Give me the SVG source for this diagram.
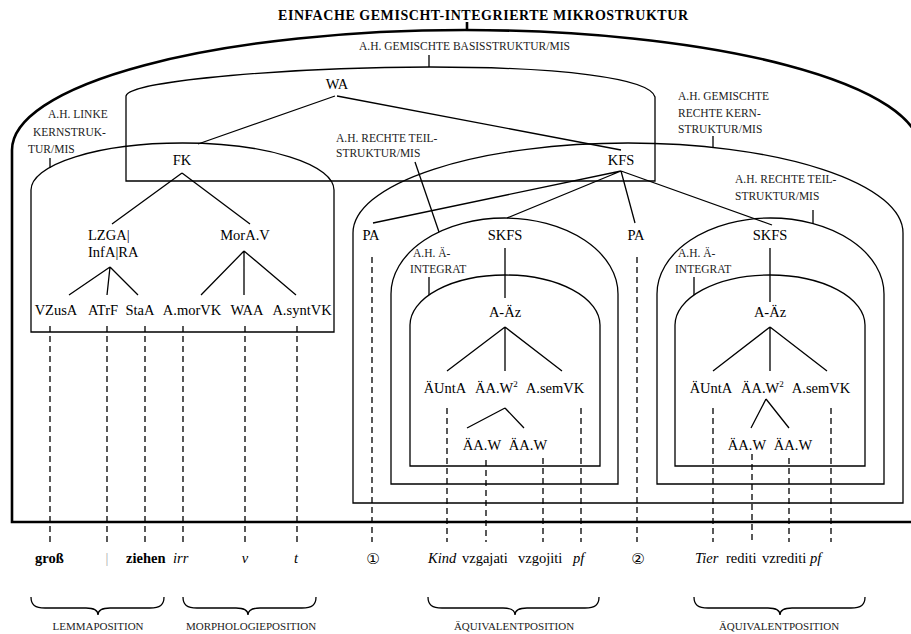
<svg xmlns="http://www.w3.org/2000/svg" width="911" height="634" viewBox="0 0 911 634" font-family="'Liberation Serif', 'Times New Roman', serif">
<style>
.l{stroke:#000;stroke-width:1.3;fill:none}
.th{stroke:#000;stroke-width:2.6;fill:none}
.d{stroke:#000;stroke-width:1.3;fill:none;stroke-dasharray:6 4}
.n{font-size:14.5px;text-anchor:middle}
.st{text-anchor:start}
.s{font-size:11.5px;fill:#222}
.w{font-size:14.5px}
.bd{font-weight:bold}
.it{font-style:italic}
.p{font-size:11px;text-anchor:middle;fill:#222}
.c{font-family:'DejaVu Sans',sans-serif;font-size:15px;text-anchor:middle}
</style>
<rect width="911" height="634" fill="#fff"/>
<text x="483" y="20" font-size="14" font-weight="bold" text-anchor="middle" textLength="410" lengthAdjust="spacing">EINFACHE GEMISCHT-INTEGRIERTE MIKROSTRUKTUR</text>

<g id="outer">
<path class="th" d="M12,522 V150 A453,120 0 0 1 465,30 A455,120 0 0 1 920,150 V522 Z"/>
<line class="th" x1="467" y1="22" x2="467" y2="30"/>
</g>

<g id="basis">
<path class="l" d="M126,181 V96 C130,80 300,67 430,67 C560,67 650,78 655,97 V181 Z"/>
<line class="l" x1="429" y1="55" x2="429" y2="67"/>
<text class="s" x="359" y="50">A.H. GEMISCHTE BASISSTRUKTUR/MIS</text>
</g>

<g id="linke-kern">
<path class="l" d="M31,332 V190 A151.5,47 0 0 1 334,190 V332 Z"/>
<line class="l" x1="50" y1="158" x2="50" y2="168"/>
<text class="s" x="48" y="118">A.H. LINKE</text>
<text class="s" x="33" y="136">KERNSTRUK-</text>
<text class="s" x="28" y="153">TUR/MIS</text>
</g>

<g id="rechte-kern">
<path class="l" d="M353,503 V233 A275,90 0 0 1 903,233 V503 Z"/>
<line class="l" x1="713" y1="136" x2="713" y2="148"/>
<text class="s" x="678" y="100">A.H. GEMISCHTE</text>
<text class="s" x="678" y="117">RECHTE KERN-</text>
<text class="s" x="678" y="133">STRUKTUR/MIS</text>
</g>

<g id="teil1">
<path class="l" d="M391,484 V294 A113.5,76 0 0 1 618,294 V484 Z"/>
<line class="l" x1="415" y1="162" x2="439" y2="232"/>
<text class="s" x="336" y="142">A.H. RECHTE TEIL-</text>
<text class="s" x="336" y="157">STRUKTUR/MIS</text>
</g>
<g id="integrat1">
<path class="l" d="M410,466 V325 A95,50 0 0 1 600,325 V466 Z"/>
<line class="l" x1="429" y1="277" x2="429" y2="295"/>
<text class="s" x="413" y="257">A.H. Ä-</text>
<text class="s" x="410" y="273">INTEGRAT</text>
</g>
<g id="teil2">
<path class="l" d="M657,484 V294 A113.5,76 0 0 1 884,294 V484 Z"/>
<line class="l" x1="813" y1="210" x2="813" y2="224"/>
<text class="s" x="735" y="183">A.H. RECHTE TEIL-</text>
<text class="s" x="735" y="200">STRUKTUR/MIS</text>
</g>
<g id="integrat2">
<path class="l" d="M675,466 V325 A95,50 0 0 1 865,325 V466 Z"/>
<line class="l" x1="694" y1="277" x2="694" y2="295"/>
<text class="s" x="678" y="257">A.H. Ä-</text>
<text class="s" x="675" y="273">INTEGRAT</text>
</g>

<g id="connectors">
<path class="l" d="M335,96 L198,144 M337,96 L621,150
M182,173 L112,224 M182,173 L250,224
M110,267 L69,295 M110,267 L107,295 M110,267 L138,295
M244,251 L201,295 M244,251 L244,295 M244,251 L296,295
M621,171 L373,223 M621,171 L507,218 M621,171 L635,223 M621,171 L772,225
M505,248 L505,298 M770,248 L770,302
M505,327 L447,371 M505,327 L505,371 M505,327 L562,371
M770,327 L713,371 M770,327 L770,371 M770,327 L827,371
M505,408 L467,428 M505,408 L524,428
M766,399 L751,428 M766,399 L789,428"/>
<path class="d" d="M50,326 V542 M107,326 V542 M145,326 V542 M183,326 V542 M245,326 V542 M297,326 V542
M372,257 V542 M637,257 V542
M447,408 V542 M486,460 V542 M543,458 V542 M581,408 V542
M713,408 V542 M752,454 V542 M789,458 V542 M831,408 V542"/>
</g>

<g id="WA"><text class="n" x="337" y="89">WA</text></g>
<g id="FK"><text class="n" x="182" y="165">FK</text></g>
<g id="KFS"><text class="n" x="621" y="165">KFS</text></g>
<g id="LZGA"><text class="n st" x="88" y="240">LZGA|</text><text class="n st" x="88" y="257">InfA|RA</text></g>
<g id="MorAV"><text class="n" x="245" y="240">MorA.V</text></g>
<g id="VZusA"><text class="n" x="56" y="315">VZusA</text></g>
<g id="ATrF"><text class="n" x="103" y="315">ATrF</text></g>
<g id="StaA"><text class="n" x="140" y="315">StaA</text></g>
<g id="AmorVK"><text class="n" x="192" y="315">A.morVK</text></g>
<g id="WAA"><text class="n" x="247" y="315">WAA</text></g>
<g id="AsyntVK"><text class="n" x="302" y="315">A.syntVK</text></g>
<g id="PA1"><text class="n" x="371" y="240">PA</text></g>
<g id="PA2"><text class="n" x="636" y="240">PA</text></g>
<g id="SKFS1"><text class="n" x="505" y="240">SKFS</text></g>
<g id="SKFS2"><text class="n" x="770" y="240">SKFS</text></g>
<g id="AAz1"><text class="n" x="505" y="317">A-Äz</text></g>
<g id="AAz2"><text class="n" x="770" y="317">A-Äz</text></g>
<g id="UntA1"><text class="n" x="445" y="393">ÄUntA</text></g>
<g id="AAW2a"><text class="n st" x="475" y="393">ÄA.W<tspan font-size="9" dy="-6">2</tspan></text></g>
<g id="semVK1"><text class="n" x="555" y="393">A.semVK</text></g>
<g id="UntA2"><text class="n" x="711" y="393">ÄUntA</text></g>
<g id="AAW2b"><text class="n st" x="741" y="393">ÄA.W<tspan font-size="9" dy="-6">2</tspan></text></g>
<g id="semVK2"><text class="n" x="821" y="393">A.semVK</text></g>
<g id="AAW1a"><text class="n" x="482" y="450">ÄA.W</text></g>
<g id="AAW1b"><text class="n" x="528" y="450">ÄA.W</text></g>
<g id="AAW1c"><text class="n" x="747" y="450">ÄA.W</text></g>
<g id="AAW1d"><text class="n" x="793" y="450">ÄA.W</text></g>

<g id="bottom-words">
<text class="w bd" x="35" y="563">groß</text>
<text class="w" x="107" y="563" text-anchor="middle" style="fill:#aaa">|</text>
<text class="w bd" x="126" y="563">ziehen</text>
<text class="w it" x="173" y="563">irr</text>
<text class="w it" x="245" y="563" text-anchor="middle">v</text>
<text class="w it" x="296" y="563" text-anchor="middle">t</text>
<text class="c" x="373" y="564">①</text>
<text class="w it" x="428" y="563">Kind</text>
<text class="w" x="462" y="563">vzgajati</text>
<text class="w" x="518" y="563">vzgojiti</text>
<text class="w it" x="573" y="563">pf</text>
<text class="c" x="638" y="564">②</text>
<text class="w it" x="695" y="563">Tier</text>
<text class="w" x="726" y="563">rediti</text>
<text class="w" x="762" y="563">vzrediti</text>
<text class="w it" x="810" y="563">pf</text>
</g>

<g id="braces">
<path class="l" d="M31,597 C31,605 35,608 45,608 L86,608 C94,608 98,610 98,615 C98,610 102,608 110,608 L150,608 C160,608 164,605 164,597"/>
<path class="l" d="M183,597 C183,605 187,608 197,608 L236,608 C244,608 248,610 248,615 C248,610 252,608 260,608 L302,608 C312,608 316,605 316,597"/>
<path class="l" d="M428,597 C428,605 432,608 442,608 L503,608 C511,608 515,610 515,615 C515,610 519,608 527,608 L585,608 C595,608 599,605 599,597"/>
<path class="l" d="M694,597 C694,605 698,608 708,608 L768,608 C776,608 780,610 780,615 C780,610 784,608 792,608 L851,608 C861,608 865,605 865,597"/>
<text class="p" x="98" y="630">LEMMAPOSITION</text>
<text class="p" x="251" y="630">MORPHOLOGIEPOSITION</text>
<text class="p" x="514" y="630">ÄQUIVALENTPOSITION</text>
<text class="p" x="779" y="630">ÄQUIVALENTPOSITION</text>
</g>
</svg>
